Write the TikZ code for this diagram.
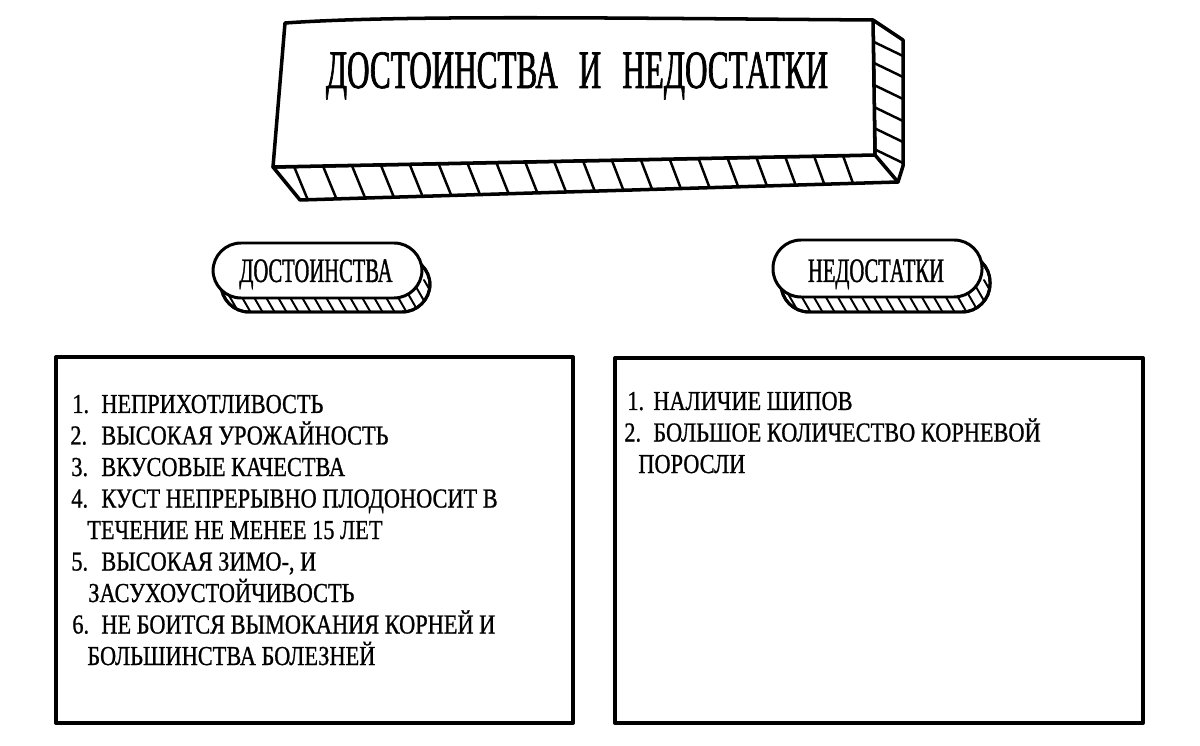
\documentclass[tikz,border=0pt]{standalone}
\usepackage{fontspec}
\newfontfamily\titlefont[FakeStretch=0.575,FakeBold=1.2]{Liberation Serif}
\newfontfamily\pillfont[FakeStretch=0.6,FakeBold=1]{Liberation Serif}
\newfontfamily\listfont[FakeStretch=0.815,FakeBold=0.8]{Liberation Serif}
\usetikzlibrary{calc}
\tikzset{
  boxline/.style={line width=2.3pt},
  slabline/.style={line width=2pt},
  hatchline/.style={line width=1.4pt},
  pillline/.style={line width=1.7pt},
  pillhatch/.style={line width=1.1pt},
  titletext/.style={inner sep=0pt, anchor=base, font=\titlefont\fontsize{30.8}{36}\selectfont},
  pilltext/.style={inner sep=0pt, anchor=base, font=\pillfont\fontsize{19.5}{22}\selectfont},
  listtext/.style={inner sep=0pt, anchor=base west, font=\listfont\fontsize{15.6}{18}\selectfont},
}
\begin{document}
\begin{tikzpicture}[x=0.02cm,y=-0.02cm, line join=round, line cap=round]
\useasboundingbox (0,0) rectangle (1200,746);
\fill[white] (0,0) rectangle (1200,746);

% ---------- title slab ----------
\coordinate (ftl) at (285,23);
\coordinate (ftr) at (873,20);
\coordinate (fbr) at (875,155);
\coordinate (fbl) at (273,167);
\coordinate (bbl) at (300,200);
\coordinate (bbr) at (898,182);
\coordinate (str) at (903,40);
\coordinate (sbr) at (903,166);
\draw[slabline, fill=white] (fbl) -- (bbl) -- (bbr) -- (sbr) -- (str) -- (ftr) -- (fbr) -- cycle;
\foreach \t [evaluate=\t as \u using \t-0.022] in {0.035,0.083,...,0.98}
  \draw[hatchline] ($(fbl)!\t!(fbr)$) -- ($(bbl)!\u!(bbr)$);
\foreach \yf in {42,63,85,107,128,149}
  \draw[hatchline] (874,\yf) -- (903,\yf+14);
\draw[slabline] (fbr) -- (bbr);
\draw[slabline, fill=white] (ftl) .. controls (400,15) and (600,18) .. (ftr) -- (fbr) -- (fbl) -- cycle;
\node[titletext] (title) at (577,88) {ДОСТОИНСТВА\hspace{12pt}И\hspace{12pt}НЕДОСТАТКИ};

% ---------- left pill ----------
\begin{scope}
  \draw[pillline, fill=white, rounded corners=0.56cm] (221,257) rectangle (430,312);
  \clip[rounded corners=0.56cm] (221,257) rectangle (430,312);
  \foreach \x in {196,208,...,436}
    \draw[pillhatch] (\x,280) -- (\x+22,318);
\end{scope}
\draw[pillline, rounded corners=0.56cm] (221,257) rectangle (430,312);
\draw[pillline, fill=white, rounded corners=0.56cm] (213,243) rectangle (422,298);
\node[pilltext] (proslbl) at (316,282) {ДОСТОИНСТВА};

% ---------- right pill ----------
\begin{scope}
  \draw[pillline, fill=white, rounded corners=0.56cm] (781,254) rectangle (990,312);
  \clip[rounded corners=0.56cm] (781,254) rectangle (990,312);
  \foreach \x in {756,768,...,996}
    \draw[pillhatch] (\x,280) -- (\x+22,318);
\end{scope}
\draw[pillline, rounded corners=0.56cm] (781,254) rectangle (990,312);
\draw[pillline, fill=white, rounded corners=0.56cm] (773,240) rectangle (982,297);
\node[pilltext] (conslbl) at (876,282) {НЕДОСТАТКИ};

% ---------- list boxes ----------
\draw[boxline] (56,357) rectangle (573,723);
\draw[boxline] (615,358) rectangle (1143,723);

% left list
\node[listtext] (n1) at (72,413) {1.};
\node[listtext] (t1) at (101,413) {НЕПРИХОТЛИВОСТЬ};
\node[listtext] (n2) at (70,444.5) {2.};
\node[listtext] (t2) at (101,444.5) {ВЫСОКАЯ УРОЖАЙНОСТЬ};
\node[listtext] (n3) at (71,476) {3.};
\node[listtext] (t3) at (101,476) {ВКУСОВЫЕ КАЧЕСТВА};
\node[listtext] (n4) at (71,507.5) {4.};
\node[listtext] (t4) at (101,507.5) {КУСТ НЕПРЕРЫВНО ПЛОДОНОСИТ В};
\node[listtext] (t4b) at (87,539) {ТЕЧЕНИЕ НЕ МЕНЕЕ 15 ЛЕТ};
\node[listtext] (n5) at (71,570.5) {5.};
\node[listtext] (t5) at (101,570.5) {ВЫСОКАЯ ЗИМО-, И};
\node[listtext] (t5b) at (88,602) {ЗАСУХОУСТОЙЧИВОСТЬ};
\node[listtext] (n6) at (72,633.5) {6.};
\node[listtext] (t6) at (101,633.5) {НЕ БОИТСЯ ВЫМОКАНИЯ КОРНЕЙ И};
\node[listtext] (t6b) at (87,665) {БОЛЬШИНСТВА БОЛЕЗНЕЙ};

% right list
\node[listtext] (m1) at (627,410) {1.};
\node[listtext] (s1) at (653,410) {НАЛИЧИЕ ШИПОВ};
\node[listtext] (m2) at (624,441.5) {2.};
\node[listtext] (s2) at (653,441.5) {БОЛЬШОЕ КОЛИЧЕСТВО КОРНЕВОЙ};
\node[listtext] (s2b) at (638,473) {ПОРОСЛИ};
\end{tikzpicture}
\end{document}
